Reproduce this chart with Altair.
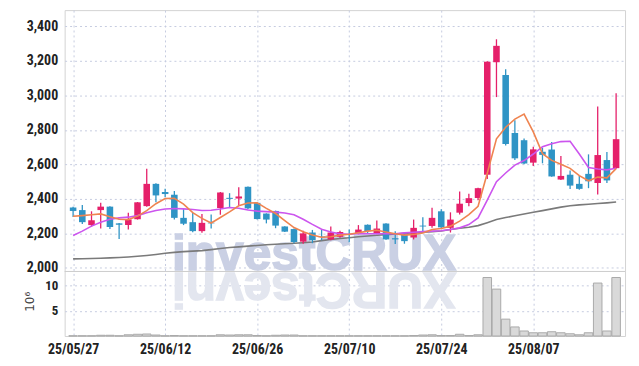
import altair as alt
import pandas as pd

# ---- data -------------------------------------------------------------
tick_index = [0, 10, 20, 30, 40, 50]
tick_labels = ['25/05/27', '25/06/12', '25/06/26', '25/07/10', '25/07/24', '25/08/07']
price_ticks = [2000, 2200, 2400, 2600, 2800, 3000, 3200, 3400]
volume_ticks = [5, 10]

opens = [2350, 2335, 2248, 2335, 2355, 2258, 2248, 2282, 2358, 2487,
         2440, 2424, 2290, 2265, 2213, 2262, 2347, 2406, 2402, 2470,
         2377, 2315, 2330, 2240, 2225, 2152, 2205, 2182, 2165, 2180,
         2195, 2200, 2250, 2200, 2257, 2172, 2195, 2176, 2245, 2243,
         2328, 2232, 2320, 2376, 2405, 2540, 3192, 3118, 2782, 2740,
         2610, 2673, 2686, 2512, 2540, 2487, 2545, 2492, 2625, 2578]
highs = [2355, 2365, 2328, 2378, 2357, 2260, 2320, 2382, 2575, 2490,
         2458, 2445, 2342, 2320, 2313, 2310, 2440, 2433, 2468, 2472,
         2378, 2316, 2332, 2242, 2228, 2215, 2220, 2225, 2240, 2215,
         2222, 2248, 2252, 2275, 2258, 2212, 2200, 2280, 2293, 2348,
         2340, 2322, 2443, 2430, 2465, 3197, 3325, 3152, 2855, 2750,
         2702, 2695, 2730, 2648, 2565, 2533, 2658, 2935, 2672, 3012]
lows = [2295, 2255, 2238, 2228, 2225, 2168, 2222, 2280, 2355, 2380,
        2410, 2280, 2248, 2207, 2204, 2228, 2308, 2348, 2358, 2340,
        2280, 2258, 2230, 2208, 2143, 2140, 2143, 2160, 2160, 2175,
        2148, 2195, 2200, 2195, 2163, 2138, 2140, 2165, 2205, 2232,
        2230, 2205, 2310, 2357, 2392, 2515, 2990, 2710, 2625, 2600,
        2590, 2606, 2528, 2510, 2457, 2453, 2462, 2425, 2492, 2575]
closes = [2330, 2265, 2276, 2355, 2237, 2250, 2280, 2380, 2487, 2420,
          2428, 2290, 2256, 2213, 2261, 2258, 2437, 2400, 2414, 2345,
          2283, 2280, 2245, 2210, 2150, 2200, 2160, 2178, 2205, 2208,
          2192, 2222, 2213, 2228, 2165, 2165, 2155, 2232, 2240, 2290,
          2235, 2280, 2372, 2404, 2462, 3195, 3287, 2718, 2635, 2605,
          2687, 2655, 2530, 2533, 2477, 2458, 2502, 2654, 2507, 2746]
ma_short = [2299, 2303, 2308, 2313, 2296, 2282, 2280, 2300, 2332, 2372,
            2402, 2403, 2370, 2320, 2287, 2260, 2292, 2325, 2360, 2376,
            2377, 2345, 2315, 2274, 2234, 2210, 2190, 2178, 2180, 2190,
            2195, 2204, 2213, 2218, 2208, 2198, 2190, 2194, 2202, 2222,
            2228, 2242, 2271, 2309, 2357, 2548, 2748, 2815, 2862, 2891,
            2788, 2662, 2623, 2601, 2577, 2535, 2505, 2526, 2522, 2575]
ma_mid = [2188, 2213, 2242, 2265, 2282, 2290, 2294, 2303, 2320, 2333,
          2341, 2344, 2342, 2338, 2333, 2334, 2341, 2350, 2346, 2336,
          2329, 2326, 2323, 2318, 2308, 2282, 2252, 2224, 2208, 2197,
          2195, 2200, 2198, 2198, 2198, 2198, 2203, 2207, 2210, 2213,
          2215, 2222, 2232, 2251, 2290, 2393, 2500, 2550, 2596, 2622,
          2660, 2702, 2720, 2732, 2734, 2660, 2582, 2573, 2568, 2577]
ma_long = [2052, 2053, 2054, 2056, 2058, 2060, 2063, 2067, 2072, 2078,
           2085, 2090, 2094, 2097, 2100, 2106, 2112, 2118, 2122, 2126,
           2130, 2134, 2137, 2140, 2143, 2146, 2150, 2158, 2165, 2170,
           2175, 2180, 2185, 2189, 2193, 2196, 2200, 2204, 2207, 2210,
           2214, 2222, 2230, 2236, 2245, 2262, 2280, 2292, 2302, 2312,
           2322, 2332, 2342, 2352, 2360, 2365, 2369, 2373, 2377, 2382]
volumes = [0.05, 0.05, 0.05, 0.15, 0.15, 0.05, 0.25, 0.35, 0.4, 0.2,
           0.05, 0.1, 0.05, 0.05, 0.05, 0.05, 0.25, 0.2, 0.25, 0.25,
           0.1, 0.05, 0.15, 0.2, 0.2, 0.05, 0.05, 0.05, 0.05, 0.05,
           0.05, 0.05, 0.05, 0.05, 0.05, 0.05, 0.05, 0.1, 0.2, 0.25,
           0.1, 0.1, 0.35, 0.1, 0.25, 11.6, 9.3, 3.35, 1.8, 1.0,
           0.65, 0.65, 0.85, 0.65, 0.45, 0.25, 0.65, 10.5, 1.0, 11.6]

df = pd.DataFrame({
    'i': list(range(len(opens))),
    'open': opens, 'high': highs, 'low': lows, 'close': closes,
    'ma_s': ma_short, 'ma_m': ma_mid, 'ma_l': ma_long, 'vol': volumes,
})
df['dir'] = ['up' if c >= o else 'down' for o, c in zip(opens, closes)]

RED = '#e5206a'
BLUE = '#2f94c5'
FONT = "'Liberation Sans Narrow', 'Roboto Condensed', Roboto, sans-serif"
GRID = '#c6cce0'

label_expr = '[' + ','.join("'%s'" % t for t in tick_labels) + '][round(datum.value/10)]'

x_enc = alt.X('i:Q',
              scale=alt.Scale(domain=[-0.38, 59.43], nice=False, zero=False),
              axis=alt.Axis(values=tick_index, labelExpr=label_expr, title=None,
                            grid=True, gridColor=GRID, gridDash=[2, 3],
                            ticks=False, domain=False, labelPadding=7,
                            labelFont=FONT, labelFontSize=14, labelFontWeight='bold',
                            labelColor='#222222'))

price_scale = alt.Scale(domain=[1605, 3494], nice=False, zero=False)
price_axis = alt.Axis(values=price_ticks, labelExpr="format(datum.value, ',')",
                      orient='left', title=None,
                      grid=True, gridColor=GRID, gridDash=[2, 3], ticks=False,
                      domain=False, labelPadding=7, labelFont=FONT,
                      labelFontSize=14, labelFontWeight='bold', labelColor='#222222')

color_enc = alt.Color('dir:N', scale=alt.Scale(domain=['up', 'down'], range=[RED, BLUE]),
                      legend=None)

# ---- watermark (decoration) --------------------------------------------
WM_TEXT = 'investCRUX'
WM_SIZE = 50
WM_CENTER = 251
# approximate advance widths (em) of Liberation Sans Bold glyphs
wm_widths = {'i': .278, 'n': .611, 'v': .556, 'e': .556, 's': .556, 't': .333,
             'C': .722, 'R': .722, 'U': .722, 'X': .667}
total = sum(wm_widths[c] for c in WM_TEXT) * WM_SIZE
pos, acc = [], WM_CENTER - total / 2
for c in WM_TEXT:
    w = wm_widths[c] * WM_SIZE
    pos.append(acc + w / 2)
    acc += w
refl_df = pd.DataFrame({'ch': list(WM_TEXT), 'px': pos})

watermark = alt.Chart(pd.DataFrame({'t': [WM_TEXT]})).mark_text(
    font='Liberation Sans', fontSize=WM_SIZE, fontWeight='bold', color='#cad0e4',
    stroke='#cad0e4', strokeWidth=1.5,
    align='center', baseline='alphabetic'
).encode(text='t:N', x=alt.value(WM_CENTER), y=alt.value(262))

reflection = alt.Chart(refl_df).mark_text(
    font='Liberation Sans', fontSize=WM_SIZE, fontWeight='bold', color='#e3e6ef',
    stroke='#e3e6ef', strokeWidth=1.5, angle=180,
    align='center', baseline='alphabetic'
).encode(text='ch:N', x=alt.X('px:Q', scale=None), y=alt.value(265))

wicks = alt.Chart(df).mark_rule(strokeWidth=1.3).encode(
    x=x_enc,
    y=alt.Y('low:Q', scale=price_scale, axis=price_axis),
    y2='high:Q',
    color=color_enc,
)
bodies = alt.Chart(df).mark_bar(size=6.6).encode(
    x=x_enc, y=alt.Y('open:Q', scale=price_scale, axis=price_axis), y2='close:Q',
    color=color_enc,
)
line_long = alt.Chart(df).mark_line(color='#7a7a7a', strokeWidth=1.6).encode(
    x=x_enc, y=alt.Y('ma_l:Q', scale=price_scale, axis=price_axis))
line_mid = alt.Chart(df).mark_line(color='#cc55ee', strokeWidth=1.6).encode(
    x=x_enc, y=alt.Y('ma_m:Q', scale=price_scale, axis=price_axis))
line_short = alt.Chart(df).mark_line(color='#ef8450', strokeWidth=1.6).encode(
    x=x_enc, y=alt.Y('ma_s:Q', scale=price_scale, axis=price_axis))

price = alt.layer(watermark, line_long, wicks, bodies, line_mid, line_short)

vol_scale = alt.Scale(domain=[0, 64.6], nice=False, zero=True)
vol_axis = alt.Axis(values=volume_ticks, orient='left', title='10⁶',
                    grid=True, gridColor=GRID, gridDash=[2, 3], ticks=False,
                    domain=False, labelPadding=7, labelFont=FONT,
                    labelFontSize=13, labelFontWeight='bold', labelColor='#222222',
                    titleFont='DejaVu Sans', titleFontSize=12, titleFontWeight='normal',
                    titleColor='#444444', titleAngle=-90, titleBaseline='middle',
                    titleX=-35, titleY=293)

vol_bars = alt.Chart(df).mark_bar(size=8.6, fill='#d9d9d9', stroke='#a9a9a9',
                                  strokeWidth=1).encode(
    x=x_enc, y=alt.Y('vol:Q', scale=vol_scale, axis=vol_axis))
divider = alt.Chart(pd.DataFrame({'d': [12.8]})).mark_rule(color='#cccccc', strokeWidth=1).encode(
    y=alt.Y('d:Q', scale=vol_scale, axis=vol_axis))

volume = alt.layer(vol_bars, divider)

chart = alt.layer(reflection, price, volume).resolve_scale(
    y='independent', color='independent'
).properties(
    width=564, height=328,
    padding={'left': 16, 'top': 1, 'right': 5, 'bottom': 5},
    background='white',
).configure_view(stroke='#d3d3d3', strokeWidth=1)

chart.save('out.html', embed_options={'renderer': 'svg', 'actions': False})
